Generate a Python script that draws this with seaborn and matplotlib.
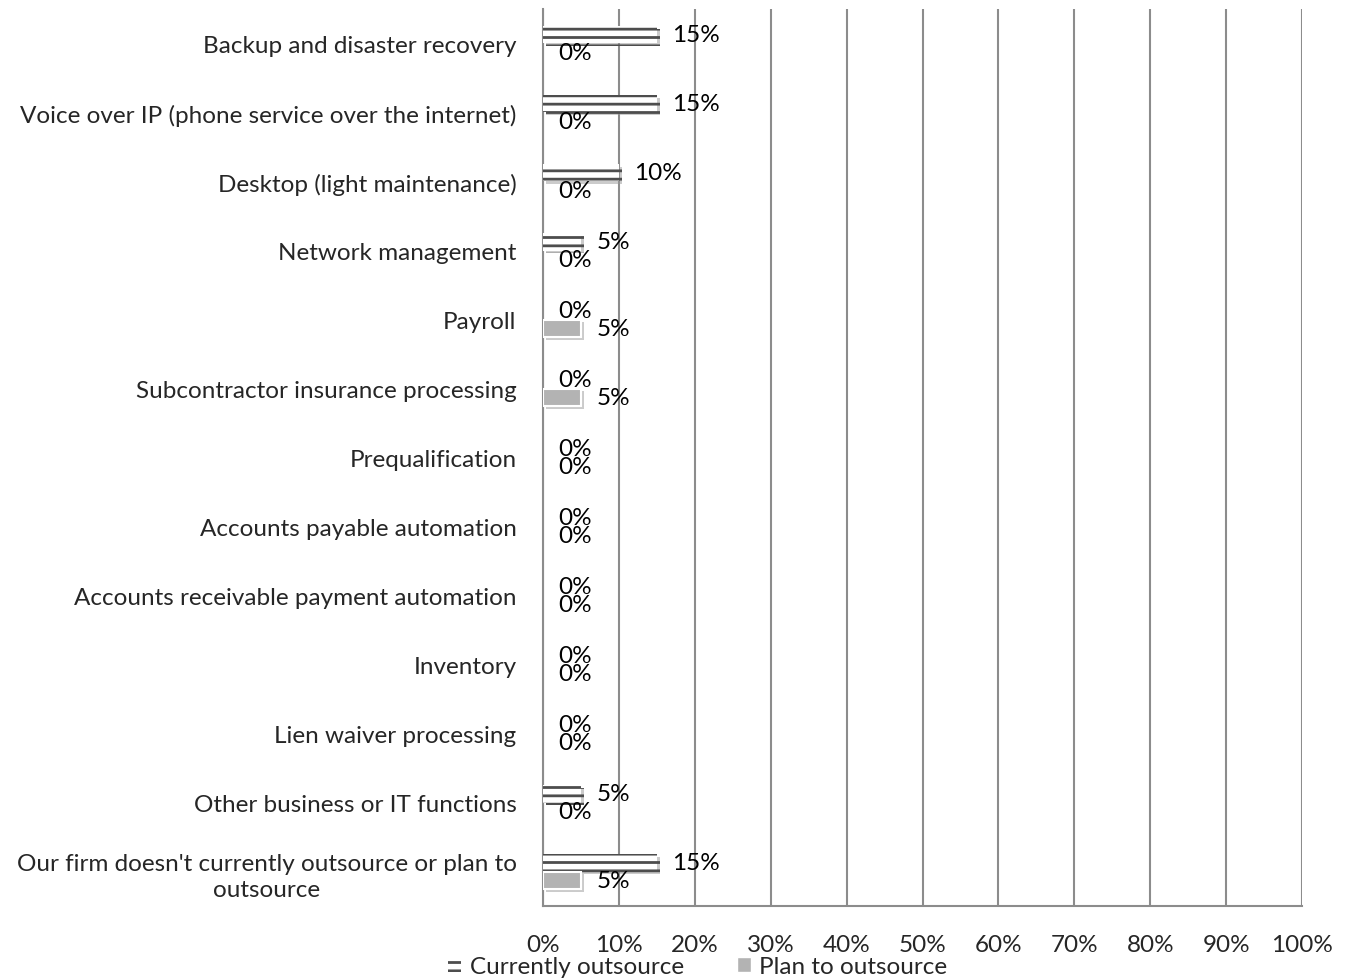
import matplotlib
matplotlib.use("Agg")
import matplotlib.pyplot as plt
import matplotlib.patheffects as pe
from matplotlib.patches import Patch
from matplotlib.ticker import FixedLocator, PercentFormatter
import seaborn as sns
import pandas as pd
import numpy as np

categories = [
    "Backup and disaster recovery",
    "Voice over IP (phone service over the internet)",
    "Desktop (light maintenance)",
    "Network management",
    "Payroll",
    "Subcontractor insurance processing",
    "Prequalification",
    "Accounts payable automation",
    "Accounts receivable payment automation",
    "Inventory",
    "Lien waiver processing",
    "Other business or IT functions",
    "Our firm doesn't currently outsource or plan to\noutsource",
]
currently = [15, 15, 10, 5, 0, 0, 0, 0, 0, 0, 0, 5, 15]
plan = [0, 0, 0, 0, 5, 5, 0, 0, 0, 0, 0, 0, 5]
series = ["Currently outsource", "Plan to outsource"]

df = pd.DataFrame({
    "cat": categories * 2,
    "val": currently + plan,
    "series": [series[0]] * len(categories) + [series[1]] * len(categories),
})

sns.set_style("white")
plt.rcParams["font.family"] = ["Lato", "DejaVu Sans"]
plt.rcParams["hatch.linewidth"] = 2.0
FS = 17.5

fig = plt.figure(figsize=(13.49, 9.79), dpi=100)
ax = fig.add_axes([0.4025, 0.0735, 0.5627, 0.9163])

sns.barplot(data=df, y="cat", x="val", hue="series", order=categories,
            hue_order=series, palette=["white", "#b3b3b3"], width=0.5,
            orient="h", ax=ax, legend=False, zorder=3)

shadow = [pe.SimplePatchShadow(offset=(2, -2), shadow_rgbFace="#999999", alpha=0.5), pe.Normal()]
n = len(categories)
for i, p in enumerate(ax.patches[:2 * n]):
    if p.get_width() > 0:
        p.set_path_effects(shadow)
    else:
        p.set_visible(False)
    if i < n:
        p.set_hatch("--")
        p.set_edgecolor("#4d4d4d")
        p.set_linewidth(0)
    else:
        p.set_edgecolor("white")
        p.set_linewidth(1.5)

# value labels
for j, s in enumerate(series):
    vals = currently if j == 0 else plan
    for i, v in enumerate(vals):
        yy = i - 0.125 if j == 0 else i + 0.125
        ax.annotate(f"{v}%", xy=(v, yy), xytext=(11, 0), textcoords="offset points",
                    ha="left", va="center", fontsize=FS, color="black", zorder=5)

ax.set_xlim(0, 100)
ax.set_ylim(n - 0.5, -0.5)
ax.xaxis.set_major_locator(FixedLocator(np.arange(0, 101, 10)))
ax.xaxis.set_major_formatter(PercentFormatter(decimals=0))
ax.grid(axis="x", color="#8c8c8c", lw=1.5, zorder=0)
ax.set_axisbelow(True)
ax.set_xlabel("")
ax.set_ylabel("")
for side in ["top", "right"]:
    ax.spines[side].set_visible(False)
for side in ["left", "bottom"]:
    ax.spines[side].set_color("#8c8c8c")
    ax.spines[side].set_linewidth(1.5)

ax.tick_params(axis="x", labelsize=FS, length=6, width=1.5, color="#8c8c8c", pad=14, direction="out")
ax.tick_params(axis="y", which="major", labelsize=FS, length=0, pad=19)
ax.yaxis.set_minor_locator(FixedLocator(np.arange(-0.5, n, 1)))
ax.tick_params(axis="y", which="minor", length=7, width=1.5, color="#8c8c8c", direction="out")
for lab in ax.get_yticklabels():
    lab.set_horizontalalignment("right")
    lab.set_multialignment("center")
    lab.set_linespacing(1.35)

handles = [Patch(facecolor="white", edgecolor="#4d4d4d", hatch="--", linewidth=0),
           Patch(facecolor="#b3b3b3", edgecolor="white")]
fig.legend(handles, series, loc="lower center", bbox_to_anchor=(0.517, 0.0), ncol=2,
           frameon=False, fontsize=FS, handlelength=0.55, handleheight=0.55,
           handletextpad=0.35, columnspacing=2.2, borderaxespad=0, borderpad=0.05)

fig.savefig("out.png", dpi=100)
